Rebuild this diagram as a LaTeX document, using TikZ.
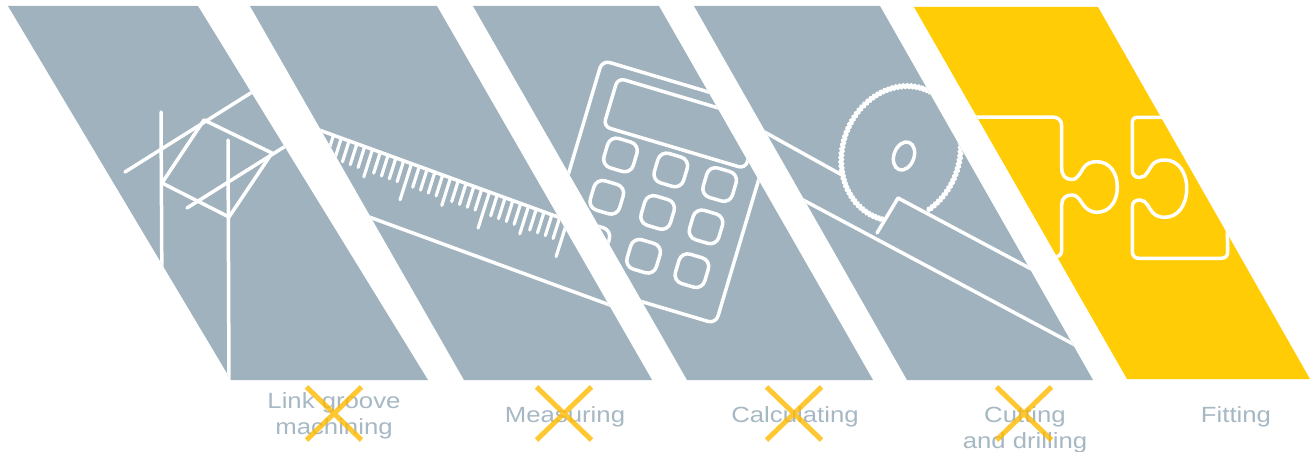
\documentclass[tikz,border=0pt]{standalone}
\usepackage{fontspec}
\setmainfont{Liberation Sans}
\newfontfamily\labelfont[FakeStretch=1.17]{Liberation Sans}
\definecolor{panelgrey}{HTML}{9FB2BD}
\definecolor{panelyellow}{HTML}{FFCC05}
\definecolor{labelgrey}{HTML}{A6B8C3}
\definecolor{crossyellow}{HTML}{FFBA00}
\tikzset{
  icon/.style={draw=white,line width=3.5pt,line cap=round,line join=round},
  tooth/.style={draw=white,line width=3.2pt,line cap=round},
  steplabel/.style={font=\labelfont\fontsize{22}{26}\selectfont,text=labelgrey,align=center,inner sep=0pt,anchor=base},
  crossline/.style={draw=crossyellow,line width=5pt},
  pone/.style={insert path={(8,6) -- (198,6) -- (428,380) -- (231,380) -- cycle}},
  ptwo/.style={insert path={(250,6) -- (437,6) -- (652,380) -- (464,380) -- cycle}},
  pthree/.style={insert path={(473,6) -- (659,6) -- (873,380) -- (687,380) -- cycle}},
  pfour/.style={insert path={(694,6) -- (880,6) -- (1093,380) -- (907,380) -- cycle}},
  pfive/.style={insert path={(914,7) -- (1098,7) -- (1310,379) -- (1127,379) -- cycle}},
}
\begin{document}
\begin{tikzpicture}[x=1pt,y=-1pt]
\path[use as bounding box] (0,0) rectangle (1311,452);
\fill[panelgrey,pone] ;
\fill[panelgrey,ptwo] ;
\fill[panelgrey,pthree] ;
\fill[panelgrey,pfour] ;
\fill[panelyellow,pfive] ;
% panel 1: joint
\begin{scope}
\clip[pone];
\draw[icon] (125,172) -- (300,62);
\draw[icon] (187,208) -- (300,137);
\draw[icon] (161,112) -- (162,300);
\draw[icon] (228,140) -- (229,385);
\draw[icon] (204,120) -- (272,153) -- (229,217) -- (162,183) -- cycle;
\end{scope}
% panel 2: ruler
\begin{scope}
\clip[ptwo];
\draw[icon] (300,123) -- (600,232.3);
\draw[icon] (350,210) -- (640,316);
\foreach \i in {-10,...,20}{
  \pgfmathsetmacro{\fx}{411.5+7.8*\i}
  \pgfmathsetmacro{\fy}{131+(\fx-322)*0.3644}
  \pgfmathsetmacro{\tlen}{ifthenelse(mod(\i+20,10)==0,38,ifthenelse(mod(\i+20,5)==0,29,22))}
  \draw[tooth] (\fx,\fy) -- ({\fx-0.3*\tlen},{\fy+0.95*\tlen});
}
\end{scope}
% panel 3: calculator
\begin{scope}
\clip[pthree];
\begin{scope}[shift={(659,192)},rotate=-16.6]
\draw[icon,rounded corners=8pt] (-92,-110) rectangle (92,110);
\draw[icon,rounded corners=7pt] (-72,-97.5) rectangle (76,-47);
\foreach \bx/\by in {-47.5/-24.5,5/-24.5,56/-24.5,-48.5/20,4.5/20,55/20,-49.5/65.5,3.6/66,54/66}
    \draw[icon,rounded corners=9pt] ({\bx-15.3},{\by-15.3}) rectangle ({\bx+15.3},{\by+15.3});
\end{scope}
\end{scope}
% panel 4: saw
\begin{scope}
\clip[pfour];
\draw[icon] (750,124) -- (842,175);
\draw[icon] (877,233) -- (898,198) -- (1050,279);
\draw[icon] (790,193) -- (1090,353);
\begin{scope}[shift={(901,153.5)},rotate=-20]
\draw[draw=white,line width=3.4pt] plot[domain=83:400.6,samples=700,variable=\t]
  ({(58.5+1.2*sin(100*mod(\t,3.6)))*cos(\t)},{(68.5+1.2*sin(100*mod(\t,3.6)))*sin(\t)});
\end{scope}
\draw[icon,rotate around={-20:(904,156)}] (904,156) ellipse [x radius=10,y radius=14.5];
\end{scope}
% panel 5: puzzle
\begin{scope}
\clip[pfive];
\draw[icon] (960,117) -- (1052,117) .. controls (1058,117) and (1061.7,120) .. (1061.7,126)
  -- (1061.7,168) .. controls (1061.7,176) and (1066,179.5) .. (1071.7,179.5)
  .. controls (1079,179.5) and (1081,170) .. (1085,166)
  .. controls (1088,163) and (1092,161.7) .. (1096.7,161.7)
  .. controls (1110,161.7) and (1117.3,173) .. (1117.3,187.3)
  .. controls (1117.3,201) and (1110,212.3) .. (1096.7,212.3)
  .. controls (1092,212.3) and (1088,210) .. (1085,207)
  .. controls (1081,203) and (1079,195) .. (1071.7,195)
  .. controls (1066,195) and (1061.7,198) .. (1061.7,205)
  -- (1061.7,250) .. controls (1061.7,255) and (1059,257) .. (1054,257) -- (1040,257);
\draw[icon] (1190,117.3) -- (1138,117.3) .. controls (1134,117.3) and (1132.3,119) .. (1132.3,123)
  -- (1132.3,170) .. controls (1132.3,175) and (1135,177.5) .. (1140,177.5)
  .. controls (1147,177.5) and (1149,168) .. (1153,164)
  .. controls (1156,161) and (1160,160) .. (1165,160)
  .. controls (1178,160) and (1186.7,172) .. (1186.7,188.5)
  .. controls (1186.7,205) and (1178,217.3) .. (1165,217.3)
  .. controls (1160,217.3) and (1156,216) .. (1153,213)
  .. controls (1149,209) and (1147,200) .. (1140,200)
  .. controls (1135,200) and (1132.3,202) .. (1132.3,207)
  -- (1132.3,251) .. controls (1132.3,256) and (1135,258.3) .. (1139,258.3)
  -- (1221,258.3) .. controls (1225.5,258.3) and (1227.7,256) .. (1227.7,252) -- (1227,215);
\end{scope}
% labels
\node[steplabel] (lgroove) at (334,408) {Link groove};
\node[steplabel] (lmach) at (334,434) {machining};
\node[steplabel] (lmeas) at (565,422) {Measuring};
\node[steplabel] (lcalc) at (795,422) {Calculating};
\node[steplabel] (lcut) at (1025,422) {Cutting};
\node[steplabel] (ldrill) at (1025,448) {and drilling};
\node[steplabel] (lfit) at (1236,422) {Fitting};
% crosses
\begin{scope}[opacity=.8,transparency group]
\foreach \cx in {334,564,794,1024}{
  \draw[crossline] ({\cx-27.5},387) -- ({\cx+27.5},440);
  \draw[crossline] ({\cx+27.5},387) -- ({\cx-27.5},440);
}
\end{scope}
\end{tikzpicture}
\end{document}
